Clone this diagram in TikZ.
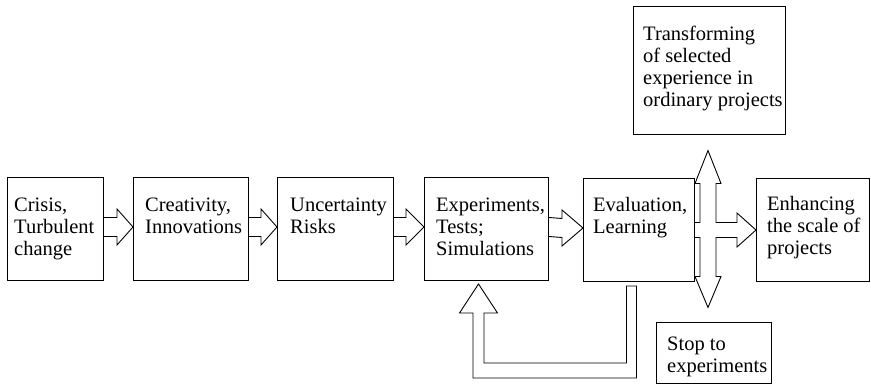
\documentclass[tikz,border=0pt]{standalone}
\usepackage{fontspec}
\setmainfont{Liberation Serif}
\usetikzlibrary{calc}
\begin{document}
\begin{tikzpicture}[x=1pt,y=-1pt,
  box/.style={draw,line width=1pt,rectangle,inner sep=0pt,anchor=north west},
  lbl/.style={inner sep=0pt,align=left,anchor=base west,
    font=\fontsize{20.5}{22}\selectfont},
  blockarrow/.style={draw,line width=0.9pt,line join=miter,fill=white}]
\useasboundingbox (0,0) rectangle (871,384);

% process boxes
\node[box,minimum width=96pt,minimum height=103pt]  (b1) at (7,177) {};
\node[box,minimum width=115pt,minimum height=103pt] (b2) at (133,177) {};
\node[box,minimum width=116pt,minimum height=103pt] (b3) at (277,177) {};
\node[box,minimum width=124pt,minimum height=103pt] (b4) at (424,177) {};
\node[box,minimum width=111pt,minimum height=103pt] (b5) at (583,178) {};
\node[box,minimum width=113pt,minimum height=103pt] (b6) at (756,178) {};
\node[box,minimum width=152pt,minimum height=128pt] (top) at (633,6) {};
\node[box,minimum width=115pt,minimum height=61pt]  (stop) at (656,322) {};

% labels (anchored on the baseline of their last line)
\node[lbl] (t1) at ($(b1.north west)+(7,78)$) {Crisis,\\Turbulent\\change};
\node[lbl] (t2) at ($(b2.north west)+(12,56)$) {Creativity,\\Innovations};
\node[lbl] (t3) at ($(b3.north west)+(13,56)$) {Uncertainty\\Risks};
\node[lbl] (t4) at ($(b4.north west)+(12,78)$) {Experiments,\\Tests;\\Simulations};
\node[lbl] (t5) at ($(b5.north west)+(10,55)$) {Evaluation,\\Learning};
\node[lbl] (t6) at ($(b6.north west)+(11,76)$) {Enhancing\\the scale of\\projects};
\node[lbl] (t7) at ($(top.north west)+(10,100)$) {Transforming\\of selected\\experience in\\ordinary projects};
\node[lbl] (t8) at ($(stop.north west)+(11,50)$) {Stop to\\experiments};

% block arrows between consecutive boxes
\foreach \a/\b/\hl in {b1/b2/16,b2/b3/16,b3/b4/18,b4/b5/21}{
  \draw[blockarrow]
    ($(\a.east)+(0,-11.5)$) -- ($(\b.west)+(-\hl,-11.5)$) --
    ($(\b.west)+(-\hl,-20)$) -- ($(\b.west)+(0,-2)$) --
    ($(\b.west)+(-\hl,16)$) -- ($(\b.west)+(-\hl,7.5)$) --
    ($(\a.east)+(0,7.5)$);
}

% four-way arrow out of the evaluation box
\coordinate (c) at ($(b5.east)+(13,0)$);
\draw[blockarrow]
  ($(b5.east)+(0,-7.5)$) -- ($(c)+(-8,-7.5)$) -- ($(c)+(-8,-46.5)$) --
  ($(c)+(-13,-46.5)$) -- ($(c)+(0,-79.5)$) -- ($(c)+(13,-46.5)$) --
  ($(c)+(8,-46.5)$) -- ($(c)+(8,-7.5)$) -- ($(b6.west)+(-19,-7.5)$) --
  ($(b6.west)+(-19,-17)$) -- (b6.west) -- ($(b6.west)+(-19,17)$) --
  ($(b6.west)+(-19,7.5)$) -- ($(c)+(8,7.5)$) -- ($(c)+(8,46.5)$) --
  ($(c)+(13,46.5)$) -- ($(c)+(0,77.5)$) -- ($(c)+(-13,46.5)$) --
  ($(c)+(-8,46.5)$) -- ($(c)+(-8,7.5)$) -- ($(b5.east)+(0,7.5)$);

% feedback loop back to the experiments box
\coordinate (up)  at ($(b4.south)+(-8,3)$);
\coordinate (dn)  at ($(b5.south)+(-7.5,4)$);
\coordinate (bot) at ($(b5.south)+(0,88.5)$);
\draw[blockarrow]
  ($(dn)+(-5,0)$) -- ($(dn)+(5,0)$) -- ($(dn |- bot)+(5,7.5)$) --
  ($(up |- bot)+(-5.5,7.5)$) -- ($(up)+(-5.5,29)$) -- ($(up)+(-19,29)$) --
  (up) -- ($(up)+(19,29)$) -- ($(up)+(5.5,29)$) --
  ($(up |- bot)+(5.5,-7.5)$) -- ($(dn |- bot)+(-5,-7.5)$) -- cycle;
\end{tikzpicture}
\end{document}
